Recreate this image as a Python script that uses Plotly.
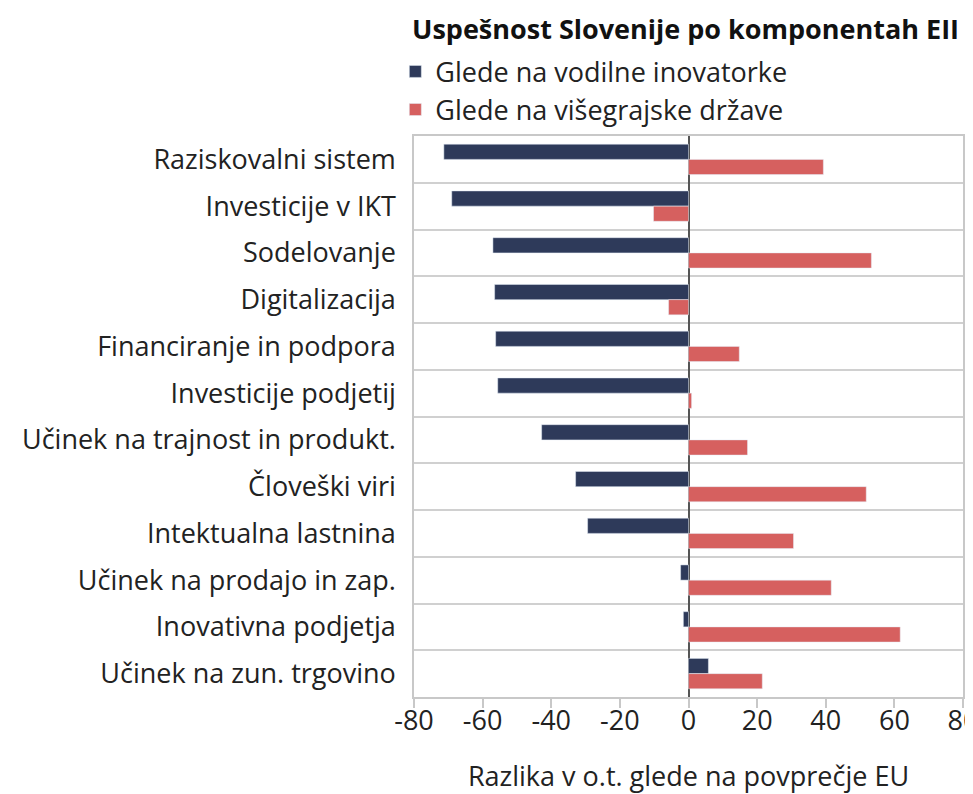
import plotly.graph_objects as go

categories = ["Raziskovalni sistem", "Investicije v IKT", "Sodelovanje", "Digitalizacija",
              "Financiranje in podpora", "Investicije podjetij", "Učinek na trajnost in produkt.",
              "Človeški viri", "Intektualna lastnina", "Učinek na prodajo in zap.",
              "Inovativna podjetja", "Učinek na zun. trgovino"]
vodilne = [-71.3, -69.0, -57.0, -56.5, -56.2, -55.6, -42.8, -32.9, -29.4, -2.3, -1.5, 5.8]
visegrajske = [39.3, -10.2, 53.3, -5.8, 14.8, 0.9, 17.2, 51.8, 30.6, 41.6, 61.7, 21.5]
tick_vals = [-80, -60, -40, -20, 0, 20, 40, 60, 80]
tick_text = ["-80", "-60", "-40", "-20", "0", "20", "40", "60", "80"]

FONT = "Open Sans"
W, H = 965, 786  # page body has an 8px margin
fig = go.Figure()
fig.add_trace(go.Bar(y=categories, x=vodilne, orientation="h", name="Glede na vodilne inovatorke",
                     marker=dict(color="#2E3A5A")))
fig.add_trace(go.Bar(y=categories, x=visegrajske, orientation="h", name="Glede na višegrajske države",
                     marker=dict(color="#D6605F")))

fig.update_layout(
    width=W, height=H,
    margin=dict(l=406, r=10, t=128, b=97),
    paper_bgcolor="white", plot_bgcolor="white",
    barmode="group", bargap=0.35, bargroupgap=0,
    font=dict(family=FONT, size=27, color="#222222"),
    title=dict(text="<b>Uspešnost Slovenije po komponentah EII</b>", x=404 / W, xref="container",
               xanchor="left", y=1 - 22 / H, yref="container", yanchor="middle",
               font=dict(size=27, color="#111111")),
    legend=dict(x=-0.034, xanchor="left", y=1.158, yanchor="top", font=dict(size=27),
                itemwidth=30, tracegroupgap=0, bgcolor="rgba(0,0,0,0)"),
    showlegend=True,
)
fig.update_xaxes(range=[-80, 80], tickvals=tick_vals, ticktext=tick_text, showgrid=False,
                 automargin=False,
                 zeroline=True, zerolinecolor="#555555", zerolinewidth=1.5,
                 showline=True, mirror=True, linecolor="#C8C8C8", linewidth=1.5,
                 ticks="outside", ticklen=9, tickcolor="#C8C8C8", tickwidth=1.5,
                 ticklabeloverflow="allow", ticklabelstandoff=-10, tickfont=dict(size=27),
                 title=dict(text="Razlika v o.t. glede na povprečje EU", font=dict(size=27), standoff=32))
fig.update_yaxes(autorange="reversed", tickson="boundaries", showgrid=True, gridcolor="#D0D0D0",
                 gridwidth=1.5, showline=True, mirror=True, linecolor="#C8C8C8", linewidth=1.5,
                 automargin=False,
                 ticks="", ticklabelstandoff=11, tickfont=dict(size=27))

fig.write_html("out.html")
